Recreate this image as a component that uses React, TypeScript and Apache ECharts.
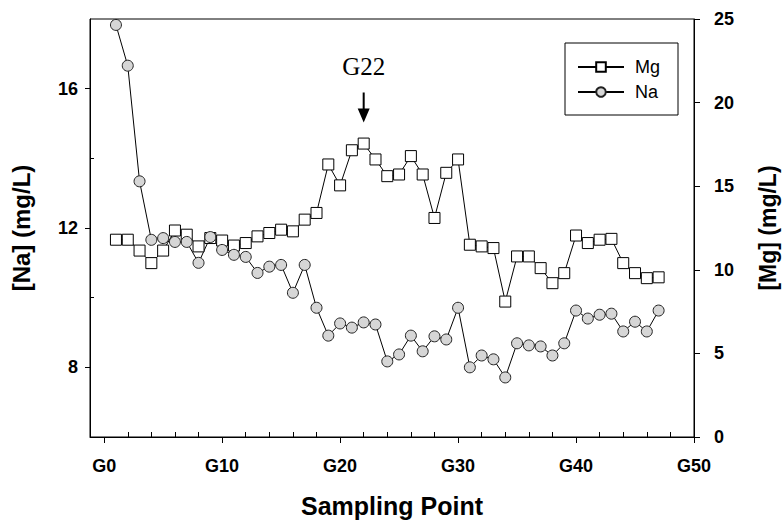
import React, { useEffect, useRef } from "react";
import * as echarts from "echarts";

const points = Array.from({ length: 47 }, (_, i) => i + 1);

const mgValues = [
  11.8, 11.8, 11.15, 10.4, 11.15, 12.35, 12.1, 11.4, 11.9, 11.75,
  11.45, 11.6, 12.0, 12.2, 12.4, 12.3, 13.0, 13.4, 16.3, 15.05,
  17.15, 17.55, 16.6, 15.6, 15.7, 16.8, 15.7, 13.1, 15.8, 16.6,
  11.5, 11.4, 11.3, 8.1, 10.8, 10.8, 10.1, 9.2, 9.8, 12.05,
  11.6, 11.8, 11.85, 10.4, 9.8, 9.5, 9.55,
];

const naValues = [
  17.83, 16.66, 13.34, 11.66, 11.71, 11.6, 11.6, 11.0, 11.74, 11.37,
  11.23, 11.17, 10.71, 10.89, 10.94, 10.14, 10.94, 9.71, 8.91, 9.26,
  9.14, 9.29, 9.23, 8.17, 8.37, 8.91, 8.46, 8.89, 8.8, 9.71,
  8.0, 8.34, 8.23, 7.71, 8.69, 8.63, 8.6, 8.34, 8.69, 9.63,
  9.4, 9.51, 9.54, 9.03, 9.31, 9.03, 9.63,
];

const xMajorTicks = [0, 10, 20, 30, 40, 50];
const xMinorTicks = [2, 4, 6, 8, 12, 14, 16, 18, 22, 24, 26, 28, 32, 34, 36, 38, 42, 44, 46, 48];
const naMajorTicks = [8, 12, 16];
const naMinorTicks = [10, 14];
const annotation = { label: "G22", x: 22, y: 19.7 };

const FONT = "'Liberation Sans', Arial, Helvetica, sans-serif";

export default function App() {
  const ref = useRef<HTMLDivElement>(null);

  useEffect(() => {
    if (!ref.current) return;
    const chart = echarts.init(ref.current, undefined, { renderer: "svg" });
    const axisLbl = { fontFamily: FONT, fontWeight: "bold" as const, fontSize: 18, color: "#000" };
    const nameStyle = { fontFamily: FONT, fontWeight: "bold" as const, fontSize: 24, color: "#000" };

    chart.setOption({
      animation: false,
      backgroundColor: "#fff",
      grid: {
        left: 90,
        right: 89,
        top: 19,
        bottom: 84,
        containLabel: false,
        outerBoundsMode: "none",
        show: true,
        borderColor: "#000",
        borderWidth: 1,
        backgroundColor: "transparent",
      },
      legend: {
        left: 565,
        top: 43,
        orient: "vertical",
        borderColor: "#000",
        borderWidth: 1,
        padding: [15, 18, 14, 12],
        itemWidth: 46,
        itemHeight: 12,
        itemGap: 7,
        textStyle: { fontFamily: FONT, fontSize: 18, color: "#000", padding: [0, 0, 0, 6] },
        data: ["Mg", "Na"],
      },
      xAxis: [
        {
          type: "value",
          min: -1.2,
          max: 50,
          name: "Sampling Point",
          nameLocation: "middle",
          nameGap: 56,
          nameTextStyle: { ...nameStyle, fontSize: 25 },
          axisLine: { show: true, onZero: false, lineStyle: { color: "#000", width: 1 } },
          axisTick: { show: true, length: 6, customValues: xMajorTicks, lineStyle: { color: "#000" } },
          axisLabel: {
            ...axisLbl,
            margin: 20,
            customValues: xMajorTicks,
            formatter: (v: number) => "G" + v,
          },
          splitLine: { show: false },
        },
        {
          type: "value",
          min: -1.2,
          max: 50,
          position: "bottom",
          axisLine: { show: false, onZero: false },
          axisTick: { show: true, inside: true, length: 5, customValues: xMinorTicks, lineStyle: { color: "#000" } },
          axisLabel: { show: false },
          splitLine: { show: false },
        },
      ],
      yAxis: [
        {
          type: "value",
          min: 6,
          max: 18,
          position: "left",
          name: "[Na] (mg/L)",
          nameLocation: "middle",
          nameRotate: 90,
          nameGap: 57,
          nameTextStyle: nameStyle,
          axisLine: { show: true, onZero: false, lineStyle: { color: "#000", width: 1 } },
          axisTick: { show: true, length: 5, customValues: naMajorTicks, lineStyle: { color: "#000" } },
          axisLabel: { ...axisLbl, margin: 12, customValues: naMajorTicks },
          splitLine: { show: false },
        },
        {
          type: "value",
          min: 0,
          max: 25,
          interval: 5,
          position: "right",
          name: "[Mg] (mg/L)",
          nameLocation: "middle",
          nameRotate: 90,
          nameGap: 62,
          nameTextStyle: { ...nameStyle, fontSize: 23 },
          axisLine: { show: true, onZero: false, lineStyle: { color: "#000", width: 1 } },
          axisTick: { show: true, length: 6, lineStyle: { color: "#000" } },
          axisLabel: { ...axisLbl, margin: 20 },
          splitLine: { show: false },
        },
        {
          type: "value",
          min: 6,
          max: 18,
          position: "left",
          axisLine: { show: false, onZero: false },
          axisTick: { show: true, inside: true, length: 4, customValues: naMinorTicks, lineStyle: { color: "#000" } },
          axisLabel: { show: false },
          splitLine: { show: false },
        },
      ],
      series: [
        {
          name: "Mg",
          type: "line",
          xAxisIndex: 0,
          yAxisIndex: 1,
          data: points.map((p, i) => [p, mgValues[i]]),
          symbol: "rect",
          symbolSize: 11,
          showAllSymbol: true,
          lineStyle: { color: "#000", width: 1 },
          itemStyle: { color: "#fff", borderColor: "#000", borderWidth: 1 },
          markPoint: {
            silent: true,
            data: [
              {
                coord: [annotation.x, annotation.y],
                symbol: "path://M5,0 L7,0 L7,16 L12,16 L6,30 L0,16 L5,16 Z",
                symbolSize: [12, 30],
                itemStyle: { color: "#000", borderWidth: 0 },
                label: {
                  show: true,
                  position: "top",
                  distance: 14,
                  formatter: annotation.label,
                  fontFamily: "'Liberation Serif', 'Times New Roman', serif",
                  fontSize: 25,
                  color: "#000",
                },
              },
            ],
          },
        },
        {
          name: "Na",
          type: "line",
          xAxisIndex: 0,
          yAxisIndex: 0,
          data: points.map((p, i) => [p, naValues[i]]),
          symbol: "circle",
          symbolSize: 11,
          showAllSymbol: true,
          lineStyle: { color: "#000", width: 1 },
          itemStyle: { color: "#d6d6d6", borderColor: "#222", borderWidth: 1 },
        },
      ],
    });

    return () => chart.dispose();
  }, []);

  return <div ref={ref} style={{ width: 783, height: 521, position: "absolute", left: 0, top: 0 }} />;
}
